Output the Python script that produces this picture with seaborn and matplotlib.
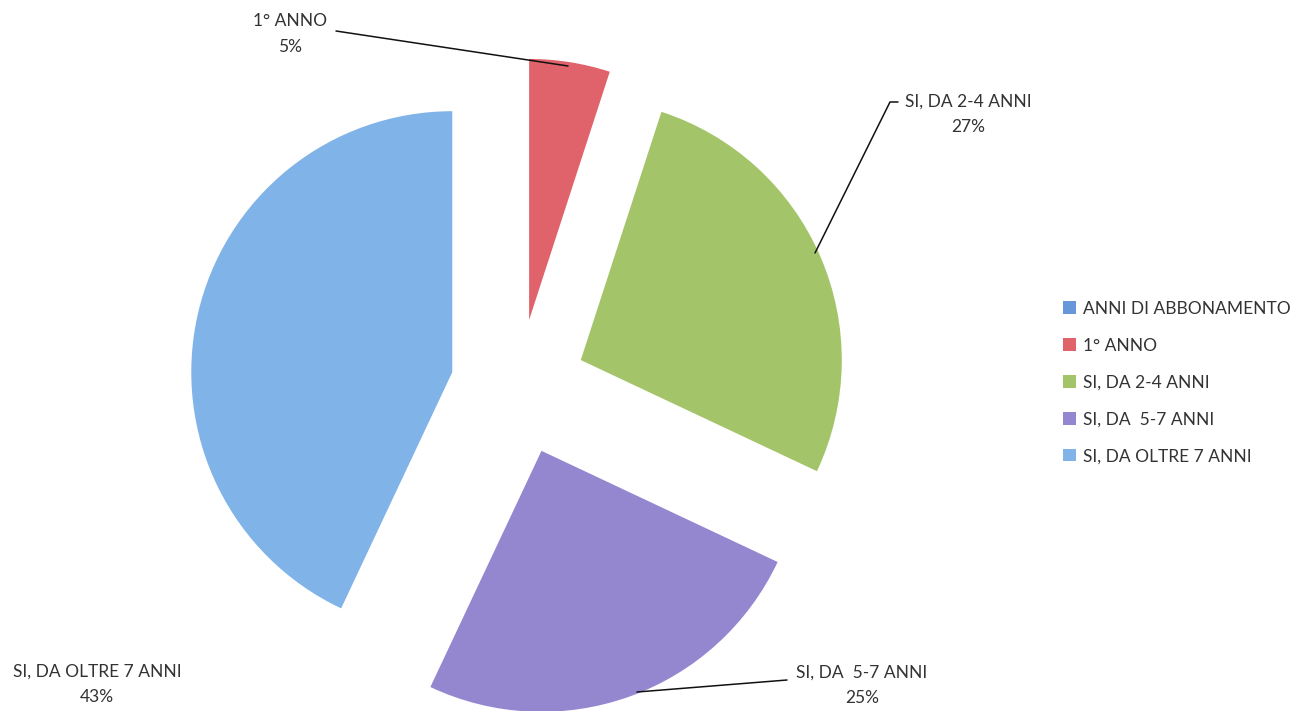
import matplotlib
matplotlib.use("Agg")
import matplotlib.pyplot as plt
from matplotlib.patches import Patch
import seaborn as sns

# data
legend_labels = ["ANNI DI ABBONAMENTO", "1° ANNO", "SI, DA 2-4 ANNI", "SI, DA  5-7 ANNI", "SI, DA OLTRE 7 ANNI"]
legend_colors = ["#6796DA", "#E0626A", "#A4C46A", "#9487D0", "#80B3E8"]
categories = ["1° ANNO", "SI, DA 2-4 ANNI", "SI, DA  5-7 ANNI", "SI, DA OLTRE 7 ANNI"]
values = [5, 27, 25, 43]
colors = ["#E0626A", "#A4C46A", "#9487D0", "#80B3E8"]

sns.set_theme(style="white")
plt.rcParams['font.family'] = ['Lato', 'DejaVu Sans']
txt_color = "#333333"

W, H = 1299, 711
fig = plt.figure(figsize=(W / 100, H / 100), dpi=100)
ax = fig.add_axes([0, 0, 1, 1])

# pixel geometry of the pie (center and radius in image px)
cx, cy, rpx = 518.5, 387, 261

def px(x, y):
    return ((x - cx) / rpx, (cy - y) / rpx)

ax.pie(values, colors=colors, startangle=90, counterclock=False,
       explode=[0.26] * len(values), radius=1,
       wedgeprops=dict(linewidth=0))

# labels with leader lines: (text center, line points)
labels_pos = {
    "1° ANNO": ((290, 34), [(336, 31), (568, 66)]),
    "SI, DA 2-4 ANNI": ((968, 114), [(898, 102), (890, 102), (815, 253)]),
    "SI, DA  5-7 ANNI": ((862, 685), [(787, 680), (637, 692)]),
    "SI, DA OLTRE 7 ANNI": ((97, 684), None),
}
for cat, val in zip(categories, values):
    (tx, ty), line = labels_pos[cat]
    x, y = px(tx, ty)
    ax.text(x, y, f"{cat}\n{val}%", ha="center", va="center", fontsize=12.5,
            color=txt_color, linespacing=1.7)
    if line:
        xs, ys = zip(*[px(a, b) for a, b in line])
        ax.plot(xs, ys, color="#111111", lw=1.1)

ax.set_xlim(-cx / rpx, (W - cx) / rpx)
ax.set_ylim(-(H - cy) / rpx, cy / rpx)
ax.set_aspect("equal")
ax.axis("off")

handles = [Patch(facecolor=c, edgecolor="none") for c in legend_colors]
fig.legend(handles, legend_labels, loc="center left", bbox_to_anchor=(0.806, 0.462),
           frameon=False, fontsize=12.5, labelcolor=txt_color,
           handlelength=0.75, handleheight=0.75, handletextpad=0.4, labelspacing=1.2)

fig.savefig("out.png", dpi=100)
